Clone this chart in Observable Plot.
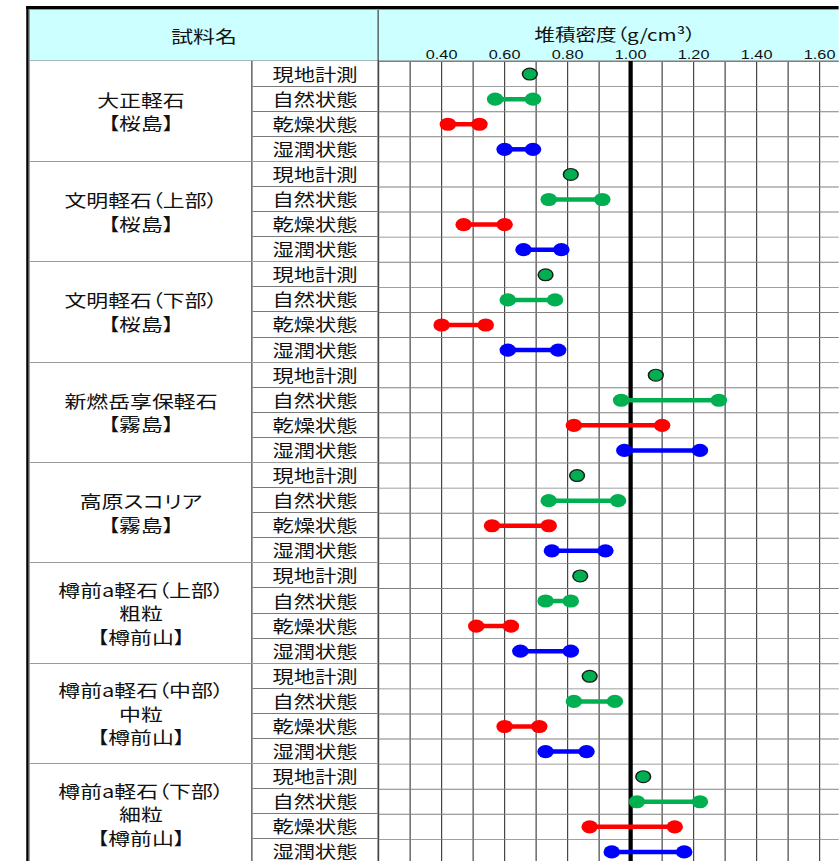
<!DOCTYPE html>
<html><head><meta charset="utf-8">
<script src="https://cdn.jsdelivr.net/npm/d3@7"></script>
<script src="https://cdn.jsdelivr.net/npm/@observablehq/plot@0.6"></script>
<style>
html,body{margin:0;padding:0;background:#fff;overflow:hidden;}
#wrap{position:absolute;left:0;top:0;width:671.2px;height:864px;transform:scaleX(1.25);transform-origin:0 0;overflow:hidden;
  font-family:"Noto Sans CJK JP","Noto Sans",sans-serif;color:#111;font-feature-settings:"palt";}
.abs{position:absolute;box-sizing:border-box;}
.cell{display:flex;flex-direction:column;align-items:center;justify-content:center;white-space:nowrap;}
#wrap svg{position:absolute;left:0;top:0;max-width:none !important;width:706px !important;height:864px !important;}
</style></head>
<body><div id="wrap"></div>
<script>
// ---- data ----
const sampleNames = ["大正軽石","文明軽石（上部）","文明軽石（下部）","新燃岳享保軽石","高原スコリア","樽前a軽石（上部）","樽前a軽石（中部）","樽前a軽石（下部）"];
const grainSizes = ["","","","","","粗粒","中粒","細粒"];
const localities = ["【桜島】","【桜島】","【桜島】","【霧島】","【霧島】","【樽前山】","【樽前山】","【樽前山】"];
const conditions = ["現地計測","自然状態","乾燥状態","湿潤状態"];
const fieldDensity = [0.68,0.81,0.73,1.08,0.83,0.84,0.87,1.04];
const naturalMin = [0.57,0.74,0.61,0.97,0.74,0.73,0.82,1.02];
const naturalMax = [0.69,0.91,0.76,1.28,0.96,0.81,0.95,1.22];
const dryMin = [0.42,0.47,0.40,0.82,0.56,0.51,0.60,0.87];
const dryMax = [0.52,0.60,0.54,1.10,0.74,0.62,0.71,1.14];
const wetMin = [0.60,0.66,0.61,0.98,0.75,0.65,0.73,0.94];
const wetMax = [0.69,0.78,0.77,1.22,0.92,0.81,0.86,1.17];
const tickLabels = ["0.40","0.60","0.80","1.00","1.20","1.40","1.60"];
const gridValues = [0.2,0.3,0.4,0.5,0.6,0.7,0.8,0.9,1.1,1.2,1.3,1.4,1.5,1.6,1.7,1.8];
const referenceValue = [1.0];
const headerTitle = "試料名";
const axisTitle = "堆積密度（g/cm³）";
const conditionColors = ["#00b050","#00b050","#ff0000","#0000ff"];

// ---- build tables for the library ----
const nRows = sampleNames.length * conditions.length;
const fieldRows = fieldDensity.map((v, g) => ({row: g * 4, v}));
const ranges = [];
sampleNames.forEach((s, g) => {
  ranges.push({row: g*4+1, lo: naturalMin[g], hi: naturalMax[g], color: conditionColors[1]});
  ranges.push({row: g*4+2, lo: dryMin[g], hi: dryMax[g], color: conditionColors[2]});
  ranges.push({row: g*4+3, lo: wetMin[g], hi: wetMax[g], color: conditionColors[3]});
});
const boundaries = d3.range(nRows + 1).map(i => i - 0.5);

// ---- layout (pre-stretch coordinates) ----
const W = 671.2, XL = 24, XC = 201.6, XP = 302.4, YH = 10, YB = 61, H = 864;
const RH = (H - YB) / nRows;
const wrap = document.getElementById("wrap");
function box(css, html) {
  const d = document.createElement("div");
  d.className = "abs" + (html !== undefined ? " cell" : "");
  Object.assign(d.style, css);
  if (html !== undefined) d.innerHTML = html;
  wrap.appendChild(d);
  return d;
}
box({left: XL+"px", top: YH+"px", width: (W-XL)+"px", height: (YB-YH)+"px", background:"#ccffff"});

const chart = Plot.plot({
  width: 706, height: H,
  marginLeft: XP, marginRight: 0.4, marginTop: YB, marginBottom: 0,
  x: {domain: [0.2, 1.8], axis: null},
  y: {domain: [-0.5, nRows - 0.5], reverse: true, axis: null},
  style: {background: "transparent", fontFamily: "'Liberation Sans', Arial, sans-serif", color: "#111", overflow: "visible"},
  marks: [
    Plot.ruleX(gridValues, {stroke: "#3a3a3a", strokeWidth: 0.9}),
    Plot.ruleY(boundaries, {stroke: "#808080", strokeWidth: 0.9}),
    Plot.ruleX(referenceValue, {stroke: "#000", strokeWidth: 3.4}),
    Plot.axisX(tickLabels.map(Number), {anchor: "top", tickSize: 0, tickPadding: 2.5, fontSize: 13,
      tickFormat: d => d.toFixed(2), label: null}),
    Plot.text([axisTitle], {x: () => 0.95, frameAnchor: "top", dy: -32.5, fontSize: 16.5,
      fontFamily: "'Noto Sans CJK JP', sans-serif"}),
    Plot.ruleY(ranges, {y: "row", x1: "lo", x2: "hi", stroke: "color", strokeWidth: 4.5}),
    Plot.dot(ranges, {x: "lo", y: "row", fill: "color", r: 6.6}),
    Plot.dot(ranges, {x: "hi", y: "row", fill: "color", r: 6.6}),
    Plot.dot(fieldRows, {x: "v", y: "row", fill: conditionColors[0], stroke: "#1a1a1a", strokeWidth: 1.2, r: 5.9})
  ]
});
wrap.appendChild(chart);
</script>
<script>
(function(){
  box({left:"20.8px", top:"6px", width:(W-20.8)+"px", height:"3px", background:"#000"});
  box({left:"23.2px", top:"9px", width:(W-23.2)+"px", height:"1px", background:"#9a9a9a"});
  box({left:"20.8px", top:"6px", width:"2.4px", height:(H-6)+"px", background:"#000"});
  box({left:"23.2px", top:"9px", width:"1px", height:(H-9)+"px", background:"#9a9a9a"});
  box({left:XL+"px", top:(YB-0.8)+"px", width:(W-XL)+"px", height:"1.2px", background:"#a8b8b8"});
  box({left:(XP-0.6)+"px", top:YH+"px", width:"1px", height:(H-YH)+"px", background:"#444"});
  box({left:(XC-0.5)+"px", top:YB+"px", width:"1px", height:(H-YB)+"px", background:"#444"});
  for (let r = 1; r < nRows; r++) {
    const y = YB + r * RH - 0.5;
    if (r % 4 === 0) box({left:XL+"px", top:y+"px", width:(XP-XL)+"px", height:"1px", background:"#9a9a9a"});
    else box({left:XC+"px", top:y+"px", width:(XP-XC)+"px", height:"1px", background:"#7a7a7a"});
  }
  box({left:XL+"px", top:YH+"px", width:(XP-XL)+"px", height:(YB-YH)+"px", fontSize:"17.5px"}, headerTitle);
  sampleNames.forEach((s, g) => {
    const lines = [s, grainSizes[g], localities[g]].filter(t => t);
    box({left:XL+"px", top:(YB+g*4*RH)+"px", width:(XC-XL)+"px", height:(4*RH)+"px", fontSize:"17.5px", lineHeight:"23.5px"},
      lines.map(t => "<div>"+t+"</div>").join(""));
    conditions.forEach((c, k) => {
      const cy = YB + (g*4+k+0.5)*RH;
      box({left:XC+"px", top:(cy-9)+"px", width:(XP-XC)+"px", height:"18px", fontSize:"17px", lineHeight:"18px"}, c);
    });
  });
})();
</script>
</body></html>
